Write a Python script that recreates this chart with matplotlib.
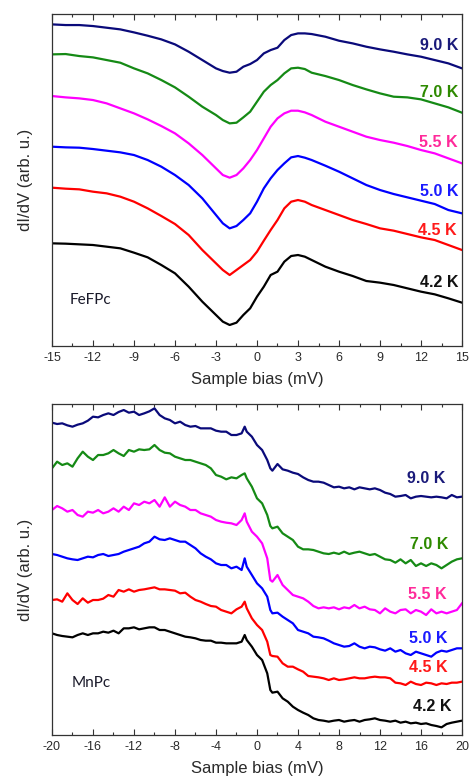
import matplotlib
matplotlib.use("Agg")
import matplotlib.pyplot as plt
from matplotlib.ticker import MultipleLocator

# ---------------- data (arbitrary units; axis is inverted) ----
temps = ["4.2 K", "4.5 K", "5.0 K", "5.5 K", "7.0 K", "9.0 K"]
line_colors = ["#000000", "#ff0000", "#0000ff", "#ff00ff", "#158a15", "#0a0a7a"]
label_colors = ["#111111", "#ff1a1a", "#1a1aff", "#ff2a9a", "#2e8a00", "#1a1a7a"]

fe_bias = [-15, -14, -13, -12, -11, -10, -9, -8, -7, -6, -5, -4, -3, -2.5, -2, -1.5, -1,
           -0.5, 0, 0.5, 1, 1.5, 2, 2.5, 3, 3.5, 4, 5, 6, 7, 8, 9, 10, 11, 12, 13, 14, 15]
fe_42 = [730, 731, 733, 735, 740, 745, 758, 772, 795, 820, 860, 905, 945, 965, 975, 968, 945,
         925, 890, 860, 825, 815, 785, 768, 765, 770, 780, 800, 815, 828, 843, 848, 855, 865,
         875, 883, 895, 908]
fe_45 = [563, 566, 568, 575, 580, 590, 605, 625, 648, 672, 705, 750, 790, 810, 825, 810, 795,
         780, 755, 722, 690, 660, 625, 605, 600, 605, 615, 630, 645, 660, 672, 685, 692, 702,
         712, 720, 735, 750]
fe_50 = [440, 442, 443, 447, 452, 457, 465, 480, 500, 525, 555, 595, 645, 670, 685, 678, 660,
         640, 605, 565, 535, 510, 490, 472, 468, 473, 480, 497, 515, 535, 555, 570, 582, 592,
         602, 612, 630, 640]
fe_55 = [288, 292, 295, 300, 310, 325, 340, 358, 378, 400, 430, 465, 505, 525, 533, 525, 505,
         480, 450, 415, 380, 355, 340, 332, 332, 337, 345, 365, 380, 395, 410, 420, 428, 438,
         450, 460, 475, 490]
fe_70 = [163, 162, 168, 172, 180, 188, 205, 220, 240, 262, 290, 320, 345, 360, 370, 368, 352,
         335, 305, 275, 255, 240, 220, 205, 203, 207, 218, 228, 240, 255, 268, 280, 290, 292,
         298, 310, 322, 338]
fe_90 = [73, 75, 75, 78, 83, 88, 97, 107, 118, 133, 155, 180, 205, 213, 218, 215, 200,
         192, 180, 160, 150, 143, 120, 105, 100, 100, 102, 110, 122, 130, 140, 148, 155, 163,
         170, 180, 190, 205]
fe_series = [fe_42, fe_45, fe_50, fe_55, fe_70, fe_90]
fe_label_x = [14.75, 14.6, 14.75, 14.7, 14.75, 14.75]
fe_label_y = [848, 692, 573, 428, 277, 137]

mn_bias = [-20, -19.5, -19, -18.5, -18, -17.5, -17, -16.5, -16, -15.5,
           -15, -14.5, -14, -13.5, -13, -12.5, -12, -11.5, -11, -10.5,
           -10, -9.5, -9, -8.5, -8, -7.5, -7, -6.5, -6, -5.5,
           -5, -4.5, -4, -3.5, -3, -2.5, -2, -1.5,
           -1.2, -1, -0.5, 0, 0.5, 1, 1.3, 1.5,
           2, 2.5, 3, 3.5, 4, 4.5, 5, 5.5, 6, 6.5,
           7, 7.5, 8, 8.5, 9, 9.5, 10, 10.5, 11, 11.5,
           12, 12.5, 13, 13.5, 14, 14.5, 15, 15.5, 16, 16.5,
           17, 17.5, 18, 18.5, 19, 19.5, 20]
mn_90 = [68, 72, 70, 76, 80, 74, 70, 62, 50, 52,
         45, 40, 45, 36, 30, 38, 35, 45, 40, 34,
         25, 45, 55, 60, 70, 65, 75, 80, 78, 85,
         85, 85, 92, 95, 95, 105, 105, 100,
         80, 95, 110, 135, 150, 180, 205, 212,
         192, 208, 212, 218, 222, 232, 240, 245, 245, 248,
         255, 262, 260, 265, 262, 268, 262, 265, 268, 265,
         270, 278, 282, 290, 288, 285, 295, 290, 288, 290,
         292, 290, 292, 295, 285, 292, 290]
mn_70 = [205, 185, 195, 190, 200, 175, 155, 170, 180, 165,
         165, 160, 150, 160, 168, 150, 155, 148, 150, 148,
         135, 150, 158, 160, 170, 175, 180, 180, 185, 190,
         195, 205, 225, 230, 238, 232, 235, 225,
         220, 235, 260, 295, 310, 345, 378, 385,
         380, 400, 410, 420, 440, 448, 448, 450, 455, 460,
         462, 458, 462, 455, 462, 458, 455, 460, 465, 462,
         470, 478, 480, 488, 478, 490, 480, 498, 490, 498,
         490, 495, 505, 495, 485, 478, 475]
mn_55 = [330, 318, 325, 335, 330, 345, 350, 335, 338, 330,
         340, 335, 325, 335, 320, 330, 310, 315, 305, 310,
         300, 320, 292, 320, 305, 315, 320, 330, 330, 340,
         345, 350, 360, 365, 368, 370, 375, 360,
         340, 365, 395, 410, 430, 475, 540, 545,
         525, 555, 570, 585, 590, 595, 605, 618, 625, 622,
         625, 622, 628, 622, 625, 615, 625, 620, 628, 630,
         640, 625, 635, 640, 630, 628, 640, 630, 635, 645,
         628, 640, 635, 640, 635, 630, 610]
mn_50 = [462, 465, 470, 475, 478, 480, 475, 470, 472, 465,
         462, 468, 465, 462, 455, 450, 445, 440, 430, 425,
         410, 418, 420, 415, 420, 425, 425, 435, 445, 460,
         470, 478, 490, 495, 495, 505, 500, 510,
         475, 500, 525, 550, 565, 590, 630, 640,
         638, 650, 660, 670, 690, 695, 700, 710, 712, 715,
         722, 730, 735, 740, 738, 730, 740, 745, 740, 742,
         748, 752, 745, 755, 750, 760, 765, 755, 760, 765,
         770, 758, 752, 755, 750, 745, 745]
mn_45 = [600, 598, 605, 580, 600, 612, 595, 608, 600, 600,
         596, 585, 590, 570, 575, 568, 575, 570, 568, 565,
         562, 568, 568, 570, 572, 580, 578, 590, 600, 605,
         612, 618, 620, 630, 635, 640, 628, 620,
         605, 625, 655, 675, 690, 725, 765, 768,
         770, 790, 800, 800, 808, 815, 828, 830, 832, 835,
         840, 835, 840, 838, 835, 832, 835, 835, 832, 830,
         832, 832, 835, 848, 850, 855, 845, 852, 855, 848,
         850, 855, 850, 852, 848, 848, 845]
mn_42 = [700, 705, 708, 710, 712, 705, 700, 705, 700, 700,
         695, 698, 692, 700, 685, 685, 682, 688, 685, 682,
         682, 690, 690, 695, 700, 705, 710, 712, 715, 720,
         722, 722, 728, 728, 730, 730, 730, 725,
         705, 720, 740, 765, 780, 820, 870, 878,
         875, 895, 905, 920, 930, 938, 945, 955, 960, 962,
         965, 962, 960, 965, 962, 960, 965, 960, 958, 955,
         960, 962, 965, 962, 968, 965, 970, 968, 972, 970,
         975, 978, 982, 972, 968, 965, 962]
mn_series = [mn_42, mn_45, mn_50, mn_55, mn_70, mn_90]
mn_label_x = [19.0, 18.6, 18.6, 18.5, 18.67, 18.4]
mn_label_y = [920, 803, 715, 582, 432, 235]

fe_ticks = list(range(-15, 16, 3))
mn_ticks = list(range(-20, 21, 4))

# ---------------- figure ----------------
plt.rcParams['font.family'] = ['Liberation Sans', 'DejaVu Sans']
fig = plt.figure(figsize=(4.7, 7.81), dpi=100)
ax1 = fig.add_axes([0.1106, 0.557, 0.8724, 0.425])
ax2 = fig.add_axes([0.1106, 0.0589, 0.8724, 0.4238])

frame = "#333333"
txt = "#2a2a2a"


def style(ax, xlim, ylim, ticks, minor, name, name_xy):
    ax.set_xlim(*xlim)
    ax.set_ylim(*ylim)
    ax.set_xticks(ticks)
    ax.set_xticklabels([str(t) for t in ticks])
    ax.xaxis.set_minor_locator(MultipleLocator(minor))
    ax.set_yticks([])
    ax.tick_params(axis='x', which='both', direction='in', top=True, bottom=True,
                   color=frame, labelsize=9, labelcolor=txt, pad=4)
    ax.tick_params(axis='x', which='major', length=4, width=0.8)
    ax.tick_params(axis='x', which='minor', length=2.5, width=0.8)
    for s in ax.spines.values():
        s.set_color(frame)
        s.set_linewidth(0.9)
    ax.set_xlabel("Sample bias (mV)", fontsize=12, color=txt, labelpad=6)
    ax.set_ylabel("dI/dV (arb. u.)", fontsize=12, color=txt, labelpad=14)
    ax.text(name_xy[0], name_xy[1], name, transform=ax.transAxes, fontsize=11,
            family=['Lato', 'DejaVu Sans'], color="#1a1a2a", ha='left', va='center')


for ys, c in zip(fe_series, line_colors):
    ax1.plot(fe_bias, ys, color=c, lw=1.6)
for t, lc, lx, ly in zip(temps, label_colors, fe_label_x, fe_label_y):
    ax1.text(lx, ly, t, color=lc, fontsize=11.5, fontweight='bold', ha='right', va='center')
style(ax1, (-15, 15), (1038, 42), fe_ticks, 1.5, "FeFPc", (0.044, 0.139))

for ys, c in zip(mn_series, line_colors):
    ax2.plot(mn_bias, ys, color=c, lw=1.6)
for t, lc, lx, ly in zip(temps, label_colors, mn_label_x, mn_label_y):
    ax2.text(lx, ly, t, color=lc, fontsize=11.5, fontweight='bold', ha='right', va='center')
style(ax2, (-20, 20), (1005, 12), mn_ticks, 2, "MnPc", (0.049, 0.157))

fig.savefig("out.png", dpi=100)
